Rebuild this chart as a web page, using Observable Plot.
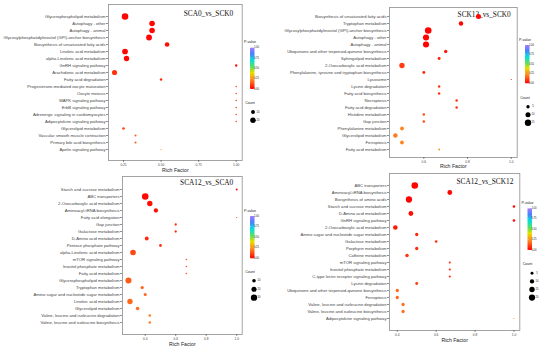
<!DOCTYPE html>
<html><head><meta charset="utf-8">
<script src="https://cdn.jsdelivr.net/npm/d3@7"></script>
<script src="https://cdn.jsdelivr.net/npm/@observablehq/plot@0.6"></script>
<style>
html,body{margin:0;padding:0;background:#fff;}
#wrap{position:relative;width:550px;height:351px;overflow:hidden;background:#fff;}
#wrap svg{position:absolute;left:0;top:0;}
</style></head><body><div id="wrap"></div>
<script>
// ---------- data ----------
const title1 = "SCA0_vs_SCK0";
const pathways1 = ["Glycerophospholipid metabolism","Autophagy - other","Autophagy - animal","Glycosylphosphatidylinositol (GPI)-anchor biosynthesis","Biosynthesis of unsaturated fatty acids","Linoleic acid metabolism","alpha-Linolenic acid metabolism","GnRH signaling pathway","Arachidonic acid metabolism","Fatty acid degradation","Progesterone-mediated oocyte maturation","Oocyte meiosis","MAPK signaling pathway","ErbB signaling pathway","Adrenergic signaling in cardiomyocytes","Adipocytokine signaling pathway","Glycerolipid metabolism","Vascular smooth muscle contraction","Primary bile acid biosynthesis","Apelin signaling pathway"];
const rich1 = [0.26,0.44,0.44,0.42,0.54,0.26,0.27,1.0,0.19,0.5,1,1,1,1,1,1,0.25,0.33,0.33,0.5];
const pval1 = [0.005,0.01,0.01,0.01,0.02,0.01,0.01,0.03,0.08,0.06,0.13,0.13,0.13,0.13,0.13,0.13,0.12,0.15,0.15,0.22];
const count1 = [28,20,20,22,14,21,19,4,17,4,2,2,2,2,2,2,5,3,3,1];
const xTicks1 = [0.25,0.5,0.75,1.0];
const countBreaks1 = [10,20];

const title2 = "SCK12_vs_SCK0";
const pathways2 = ["Biosynthesis of unsaturated fatty acids","Tryptophan metabolism","Glycosylphosphatidylinositol (GPI)-anchor biosynthesis","Autophagy - other","Autophagy - animal","Ubiquinone and other terpenoid-quinone biosynthesis","Sphingolipid metabolism","2-Oxocarboxylic acid metabolism","Phenylalanine, tyrosine and tryptophan biosynthesis","Lysosome","Lysine degradation","Fatty acid biosynthesis","Necroptosis","Fatty acid degradation","Histidine metabolism","Gap junction","Phenylalanine metabolism","Glycerolipid metabolism","Ferroptosis","Fatty acid metabolism"];
const rich2 = [0.85,0.77,0.62,0.61,0.61,0.70,0.67,0.50,0.60,1.0,0.67,0.67,0.75,0.75,0.60,0.60,0.50,0.47,0.50,0.67];
const pval2 = [0.01,0.01,0.005,0.005,0.005,0.04,0.05,0.1,0.07,0.03,0.08,0.08,0.08,0.08,0.12,0.12,0.22,0.2,0.22,0.25];
const count2 = [10,8,16,14,14,5,4,11,4,1,3,3,3,3,3,3,6,8,6,2];
const xTicks2 = [0.6,0.8,1.0];
const countBreaks2 = [5,10,15];

const title3 = "SCA12_vs_SCA0";
const pathways3 = ["Starch and sucrose metabolism","ABC transporters","2-Oxocarboxylic acid metabolism","Aminoacyl-tRNA biosynthesis","Fatty acid elongation","Gap junction","Galactose metabolism","D-Amino acid metabolism","Pentose phosphate pathway","alpha-Linolenic acid metabolism","mTOR signaling pathway","Inositol phosphate metabolism","Fatty acid metabolism","Glycerophospholipid metabolism","Tryptophan metabolism","Amino sugar and nucleotide sugar metabolism","Linoleic acid metabolism","Glycerolipid metabolism","Valine, leucine and isoleucine degradation","Valine, leucine and isoleucine biosynthesis"];
const rich3 = [1.0,0.40,0.43,0.47,1.0,0.60,0.60,0.41,0.50,0.32,0.67,0.67,0.67,0.29,0.38,0.40,0.30,0.35,0.43,0.43];
const pval3 = [0.01,0.01,0.02,0.03,0.06,0.07,0.07,0.06,0.08,0.12,0.15,0.15,0.15,0.15,0.16,0.17,0.17,0.18,0.2,0.2];
const count3 = [3,33,22,14,1,4,4,11,6,24,2,2,2,28,8,7,22,10,5,5];
const xTicks3 = [0.4,0.6,0.8,1.0];
const countBreaks3 = [10,20,30];

const title4 = "SCA12_vs_SCK12";
const pathways4 = ["ABC transporters","Aminoacyl-tRNA biosynthesis","Biosynthesis of amino acids","Starch and sucrose metabolism","D-Amino acid metabolism","GnRH signaling pathway","2-Oxocarboxylic acid metabolism","Amino sugar and nucleotide sugar metabolism","Galactose metabolism","Porphyrin metabolism","Caffeine metabolism","mTOR signaling pathway","Inositol phosphate metabolism","C-type lectin receptor signaling pathway","Lysine degradation","Ubiquinone and other terpenoid-quinone biosynthesis","Ferroptosis","Valine, leucine and isoleucine degradation","Valine, leucine and isoleucine biosynthesis","Adipocytokine signaling pathway"];
const rich4 = [0.49,0.67,0.46,1.0,0.47,1.0,0.39,0.50,0.60,0.50,0.45,0.67,0.67,0.67,0.50,0.40,0.40,0.43,0.43,1.0];
const pval4 = [0.005,0.01,0.005,0.02,0.02,0.02,0.04,0.06,0.07,0.07,0.09,0.09,0.09,0.09,0.1,0.17,0.17,0.18,0.18,0.2];
const count4 = [22,12,20,4,12,4,11,6,4,6,7,3,3,3,5,6,6,6,6,1];
const xTicks4 = [0.4,0.6,0.8,1.0];
const countBreaks4 = [5,10,15,20];

const pvalTicks = [0, 0.25, 0.5, 0.75, 1];
const colorStops = [0, 0.2, 0.4, 0.5, 0.7, 0.85, 1];
const colorRange = ["#ff0000","#ff7a20","#e8e000","#70e040","#00e0e0","#4a80ff","#a07cff"];

// ---------- layout ----------
const SANS = "Liberation Sans, Arial, Helvetica, sans-serif";
const SERIF = "Liberation Serif, 'Times New Roman', serif";
const panels = [
  {id:1, title:title1, pathways:pathways1, rich:rich1, pval:pval1, count:count1, ticks:xTicks1, fmt:".2f", breaks:countBreaks1,
   box:[108,4,241.7,160], xdom:[0.15,1.04], tdx:-9, tdy:9, rfdy:10,
   leg:{x:250, pvY:42.5, barTop:47.7, barBot:89, barW:4.5, countY:103, dotX:253, dot0:112, step:8.3}},
  {id:2, title:title2, pathways:pathways2, rich:rich2, pval:pval2, count:count2, ticks:xTicks2, fmt:".1f", breaks:countBreaks2,
   box:[389,7,516.7,157], xdom:[0.443,1.027], tdx:-6.5, tdy:7, rfdy:9,
   leg:{x:525, pvY:40, barTop:45, barBot:83.3, barW:4.5, countY:98.3, dotX:528, dot0:106.7, step:8}},
  {id:3, title:title3, pathways:pathways3, rich:rich3, pval:pval3, count:count3, ticks:xTicks3, fmt:".1f", breaks:countBreaks3,
   box:[122,176,241.7,334], xdom:[0.251,1.036], tdx:-9, tdy:6, rfdy:10,
   leg:{x:250, pvY:210.7, barTop:216, barBot:258.3, barW:4.5, countY:271.7, dotX:254, dot0:280.7, step:8.5}},
  {id:4, title:title4, pathways:pathways4, rich:rich4, pval:pval4, count:count4, ticks:xTicks4, fmt:".1f", breaks:countBreaks4,
   box:[389,173,519.3,330], xdom:[0.36,1.03], tdx:-6.5, tdy:8, rfdy:10,
   leg:{x:527.5, pvY:203.3, barTop:208.3, barBot:250, barW:4.5, countY:264, dotX:532, dot0:273.3, step:8.1}}
];

const wrap = document.getElementById("wrap");

panels.forEach(P => {
  const data = P.pathways.map((p,i) => ({pathway:p, rich:P.rich[i], p:P.pval[i], count:P.count[i]}));
  const cmin = d3.min(P.count), cmax = d3.max(P.count);
  const [x0,y0,x1,y1] = P.box;
  const svg = Plot.plot({
    width:550, height:351,
    marginLeft:x0, marginTop:y0, marginRight:550-x1, marginBottom:351-y1,
    style:{background:"transparent", overflow:"visible", fontFamily:SANS},
    x:{domain:P.xdom, label:null},
    y:{domain:P.pathways, type:"point", padding:0.6, label:null},
    color:{type:"linear", domain:colorStops, range:colorRange, interpolate:"rgb"},
    r:{type:"sqrt", domain:[cmin,cmax], range:[0.55,3.3]},
    marks:[
      Plot.frame({stroke:"#9a9a9a", strokeWidth:0.9}),
      Plot.axisY({tickSize:2, tickPadding:1, fontSize:4.2, color:"#444", strokeWidth:0.6, label:null}),
      Plot.axisX({ticks:P.ticks, tickFormat:d3.format(P.fmt), tickSize:2, tickPadding:1, fontSize:3.2, color:"#444", strokeWidth:0.6, label:null}),
      Plot.text([P.title], {text:d=>d, frameAnchor:"top-right", dx:P.tdx, dy:P.tdy, lineAnchor:"middle", fontFamily:SERIF, fontSize:7.3, fill:"#111"}),
      Plot.dot(data, {x:"rich", y:"pathway", r:"count", fill:"p"}),
      Plot.text(["Rich Factor"], {text:d=>d, frameAnchor:"bottom", dy:P.rfdy, lineAnchor:"middle", fontSize:5.2, fill:"#222"})
    ]
  });
  wrap.appendChild(svg);

  // legends
  const color = svg.scale("color");
  const rS = svg.scale("r");
  const L = P.leg;
  const g = d3.select(svg).append("g").attr("font-family", SANS).attr("fill", "#222");
  const gid = "pgrad" + P.id;
  const grad = g.append("defs").append("linearGradient").attr("id", gid)
    .attr("x1",0).attr("y1",1).attr("x2",0).attr("y2",0);
  d3.range(0, 1.0001, 0.025).forEach(t => grad.append("stop").attr("offset", t).attr("stop-color", color.apply(t)));
  g.append("text").attr("x", L.x).attr("y", L.pvY).attr("dominant-baseline","middle").attr("font-size",3.6).text("P-value");
  g.append("rect").attr("x", L.x).attr("y", L.barTop).attr("width", L.barW).attr("height", L.barBot - L.barTop).attr("fill", `url(#${gid})`);
  const fmt2 = d3.format(".2f");
  pvalTicks.forEach(v => {
    const yy = L.barBot - v * (L.barBot - L.barTop);
    g.append("line").attr("x1", L.x).attr("x2", L.x+1).attr("y1", yy).attr("y2", yy).attr("stroke","#fff").attr("stroke-width",0.4);
    g.append("line").attr("x1", L.x+L.barW-1).attr("x2", L.x+L.barW).attr("y1", yy).attr("y2", yy).attr("stroke","#fff").attr("stroke-width",0.4);
    g.append("text").attr("x", L.x + L.barW + 2).attr("y", yy).attr("dominant-baseline","middle").attr("font-size",2.7).text(fmt2(v));
  });
  g.append("text").attr("x", L.x).attr("y", L.countY).attr("dominant-baseline","middle").attr("font-size",3.6).text("Count");
  P.breaks.forEach((c,i) => {
    const yy = L.dot0 + i * L.step;
    g.append("circle").attr("cx", L.dotX).attr("cy", yy).attr("r", rS.apply(c)).attr("fill", "#000");
    g.append("text").attr("x", L.dotX + 5).attr("y", yy).attr("dominant-baseline","middle").attr("font-size",2.7).text(c);
  });
});
</script></body></html>
